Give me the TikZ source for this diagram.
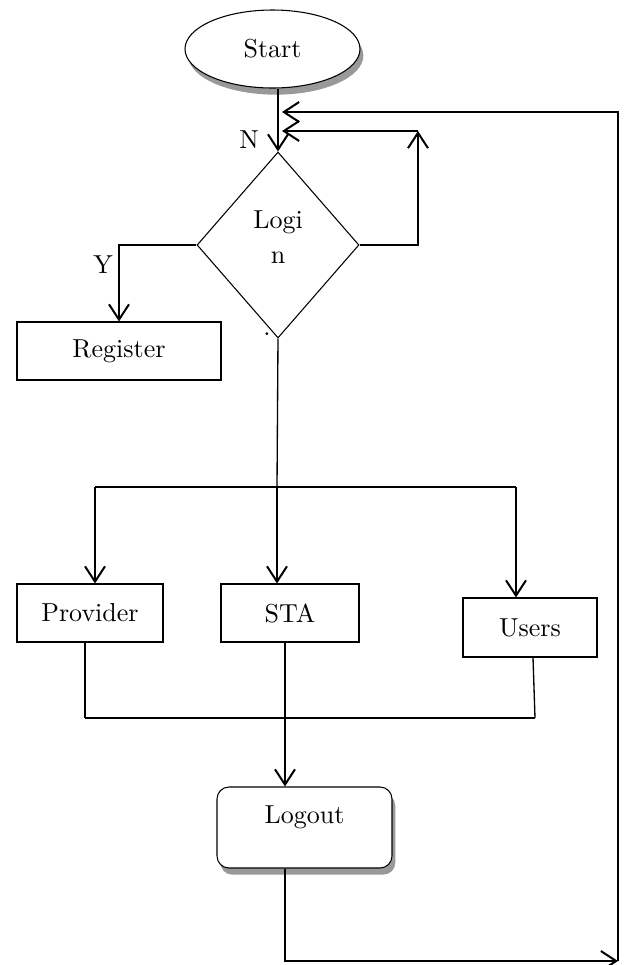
\documentclass[tikz,border=0pt]{standalone}
\usetikzlibrary{shapes.geometric,arrows.meta,shadows}
\newcommand{\bigtxt}[1]{\scalebox{1.95}{#1}}
\begin{document}
\begin{tikzpicture}[x=0.75pt,y=-0.75pt,
  every node/.style={font=\fontsize{10}{12}\selectfont},
  box/.style={draw,line width=0.8pt,inner sep=0pt},
  shad/.style={drop shadow={shadow xshift=2.5pt,shadow yshift=-5pt,fill=black!40,opacity=1}},
  thk/.style={line width=1.5pt},
  thn/.style={line width=1pt},
  arr/.style={line width=1.5pt,-{Straight Barb[length=11.5pt,width=15pt]}},
  lbl/.style={inner sep=0pt}
]
\useasboundingbox (0,0) rectangle (626,965);

% nodes
\node[box,ellipse,shad,minimum width=131.25pt,minimum height=58.5pt,fill=white] (start) at (272.5,49) {\bigtxt{Start}};
\node[box,diamond,minimum width=121.5pt,minimum height=139.5pt] (login) at (278,245) {};
\node[lbl,anchor=base] (loginA) at (278,228) {\bigtxt{Logi}};
\node[lbl,anchor=base] (loginB) at (278,263) {\bigtxt{n}};
\node[lbl,anchor=base] (dotmark) at (267,335) {\bigtxt{.}};
\node[box,minimum width=153pt,minimum height=43.5pt] (register) at (119,351) {\bigtxt{Register}};
\node[box,minimum width=109.5pt,minimum height=43.5pt] (provider) at (90,613) {\bigtxt{Provider}};
\node[box,minimum width=103.5pt,minimum height=43.5pt] (sta) at (290,613) {\bigtxt{STA}};
\node[box,minimum width=100.5pt,minimum height=44.25pt] (users) at (530,627.5) {\bigtxt{Users}};
\node[box,rounded corners=9pt,shad,fill=white,minimum width=131.25pt,minimum height=60.75pt,
      label={[name=logouttext,yshift=7.5pt]center:\bigtxt{Logout}}] (logout) at (304.5,827.5) {};

% labels
\node[lbl] (nlabel) at (249,140) {\bigtxt{N}};
\node[lbl] (ylabel) at (103,265) {\bigtxt{Y}};

% coordinates
\coordinate (loopc) at (418,131);
\coordinate (loopin) at (282,131);
\coordinate (outerin) at (282,112);
\coordinate (tr) at (618,112);
\coordinate (br) at (618,961);
\coordinate (jn) at (277,487);
\coordinate (sl) at (95,487);
\coordinate (sr) at (516,487);
\coordinate (ml) at (85,718);
\coordinate (mx) at (285,718);
\coordinate (mr) at (535,718);

% connectors
\draw[arr] (start.south -| login.north) -- (login.north);
\draw[arr] (login.west) -| (register.north);
\draw[arr] (login.east) -| (loopc);
\draw[arr] (loopc) -- (loopin);

\draw[thn] (login.south) -- (jn);
\draw[thk] (sl) -- (sr);
\draw[arr] (sl) -- (sl |- provider.north);
\draw[arr] (jn) -- (jn |- sta.north);
\draw[arr] (sr) -- (sr |- users.north);

\draw[thn] (provider.south -| ml) -- (ml);
\draw[thn] (sta.south -| mx) -- (mx);
\draw[thn] ([xshift=-1.5pt]users.south -| mr) -- (mr);
\draw[thk] (ml) -- (mr);
\draw[arr] (mx) -- (logout.north -| mx);

\draw[arr] (logout.south -| mx) -- (mx |- br) -- (br);
\draw[arr] (br) -- (tr) -- (outerin);
\end{tikzpicture}
\end{document}
